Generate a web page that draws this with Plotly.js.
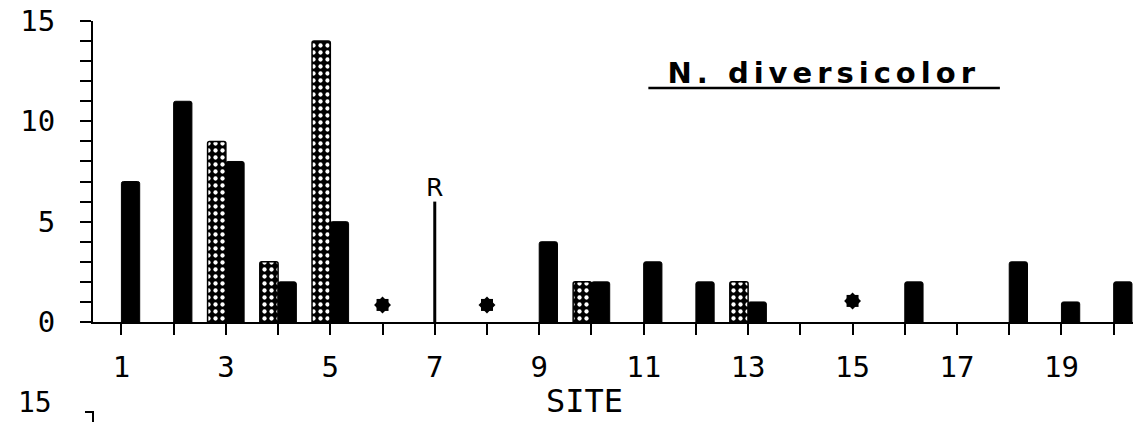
<!DOCTYPE html>
<html>
<head>
<meta charset="utf-8">
<script src="https://cdn.plot.ly/plotly-3.0.1.min.js"></script>
<style>
html, body { margin: 0; padding: 0; background: #fff; }
#chart { width: 1133px; height: 422px; }
.annotation[data-index="0"] text { letter-spacing: 5px; }
</style>
</head>
<body>
<div id="chart"></div>
<script>
// ---- data ----
const sites = [1,2,3,4,5,6,7,8,9,10,11,12,13,14,15,16,17,18,19,20];
const dottedValues = [null,null,9,3,14,null,null,null,null,2,null,null,2,null,null,null,null,null,null,null];
const darkValues   = [7,11,8,2,5,null,null,null,4,2,3,2,1,null,null,2,null,3,1,2];
const starSites  = [6,8,15];
const starValues = [0.85,0.85,1.05];
const refSites  = [7,7];
const refValues = [0,6];
const refLabel = 'R';
const speciesTitle = 'N. diversicolor';
const xAxisLabel = 'SITE';
const xTickLabels = ['1','','3','','5','','7','','9','','11','','13','','15','','17','','19',''];
const yTickVals = [0,1,2,3,4,5,6,7,8,9,10,11,12,13,14,15];
const yTickLabels = ['0','','','','','5','','','','','10','','','','','15'];
const nextPanelTop = '15';

const mono = 'DejaVu Sans Mono, monospace';
const traces = [
  {
    type: 'bar', x: sites, y: dottedValues, offset: -0.35, width: 0.35,
    marker: {
      color: '#000',
      pattern: { shape: '.', fgcolor: '#fff', bgcolor: '#000', fgopacity: 1, size: 7, solidity: 0.3, fillmode: 'replace' },
      line: { color: '#000', width: 1.5 }
    },
    hoverinfo: 'skip'
  },
  {
    type: 'bar', x: sites, y: darkValues, offset: 0, width: 0.35,
    marker: { color: '#000', line: { color: '#000', width: 1 } },
    hoverinfo: 'skip'
  },
  {
    type: 'scatter', mode: 'lines', x: refSites, y: refValues,
    line: { color: '#000', width: 3 }, hoverinfo: 'skip'
  },
  {
    type: 'scatter', mode: 'markers', x: starSites, y: starValues,
    marker: { symbol: 'square', size: 12, color: '#000' }, hoverinfo: 'skip'
  },
  {
    type: 'scatter', mode: 'markers', x: starSites, y: starValues,
    marker: { symbol: 'diamond', size: 13, color: '#000' }, hoverinfo: 'skip'
  }
];

const layout = {
  width: 1133, height: 422,
  margin: { l: 93, r: 0, t: 21, b: 100 },
  paper_bgcolor: '#fff', plot_bgcolor: '#fff',
  showlegend: false,
  barmode: 'overlay',
  barcornerradius: 2,
  font: { family: mono, color: '#000' },
  xaxis: {
    range: [0.456, 20.37], showgrid: false, zeroline: false,
    showline: true, linecolor: '#000', linewidth: 2,
    ticks: 'outside', ticklen: 11, tickwidth: 2, tickcolor: '#000',
    tickvals: sites, ticktext: xTickLabels,
    tickfont: { family: mono, size: 29, color: '#000' },
    ticklabelstandoff: 7
  },
  yaxis: {
    range: [0, 15], showgrid: false, zeroline: false,
    showline: true, linecolor: '#000', linewidth: 2,
    ticks: 'outside', ticklen: 11, tickwidth: 2, tickcolor: '#000',
    tickvals: yTickVals, ticktext: yTickLabels,
    tickfont: { family: mono, size: 29, color: '#000' },
    ticklabelstandoff: 19
  },
  annotations: [
    {
      text: speciesTitle, xref: 'paper', yref: 'paper', x: 0.703, y: 0.827,
      xanchor: 'center', yanchor: 'middle', showarrow: false,
      font: { family: 'DejaVu Sans, sans-serif', size: 29, weight: 'bold', color: '#000' }
    },
    {
      text: refLabel, x: refSites[1], y: refValues[1], xref: 'x', yref: 'y',
      xanchor: 'center', yanchor: 'bottom', showarrow: false, yshift: -2,
      font: { family: 'DejaVu Sans, sans-serif', size: 25, color: '#000' }
    },
    {
      text: xAxisLabel, xref: 'paper', yref: 'paper', x: 0.473, y: -0.262,
      xanchor: 'center', yanchor: 'middle', showarrow: false,
      font: { family: mono, size: 32, color: '#000' }
    },
    {
      text: nextPanelTop, xref: 'paper', yref: 'paper', x: -0.0375, y: -0.268,
      xanchor: 'right', yanchor: 'middle', showarrow: false,
      font: { family: mono, size: 28, color: '#000' }
    }
  ],
  shapes: [
    { type: 'line', xref: 'paper', yref: 'paper', x0: 0.534, x1: 0.872, y0: 0.777, y1: 0.777,
      line: { color: '#000', width: 2.5 } },
    { type: 'line', xref: 'paper', yref: 'paper', x0: -0.01, x1: 0, y0: 0, y1: 0,
      line: { color: '#000', width: 2 } },
    { type: 'path', xref: 'paper', yref: 'paper',
      path: 'M -0.0077 -0.299 L 0 -0.299 L 0 -0.335',
      line: { color: '#000', width: 2 } }
  ]
};

Plotly.newPlot('chart', traces, layout, { staticPlot: true, displayModeBar: false });
</script>
</body>
</html>
